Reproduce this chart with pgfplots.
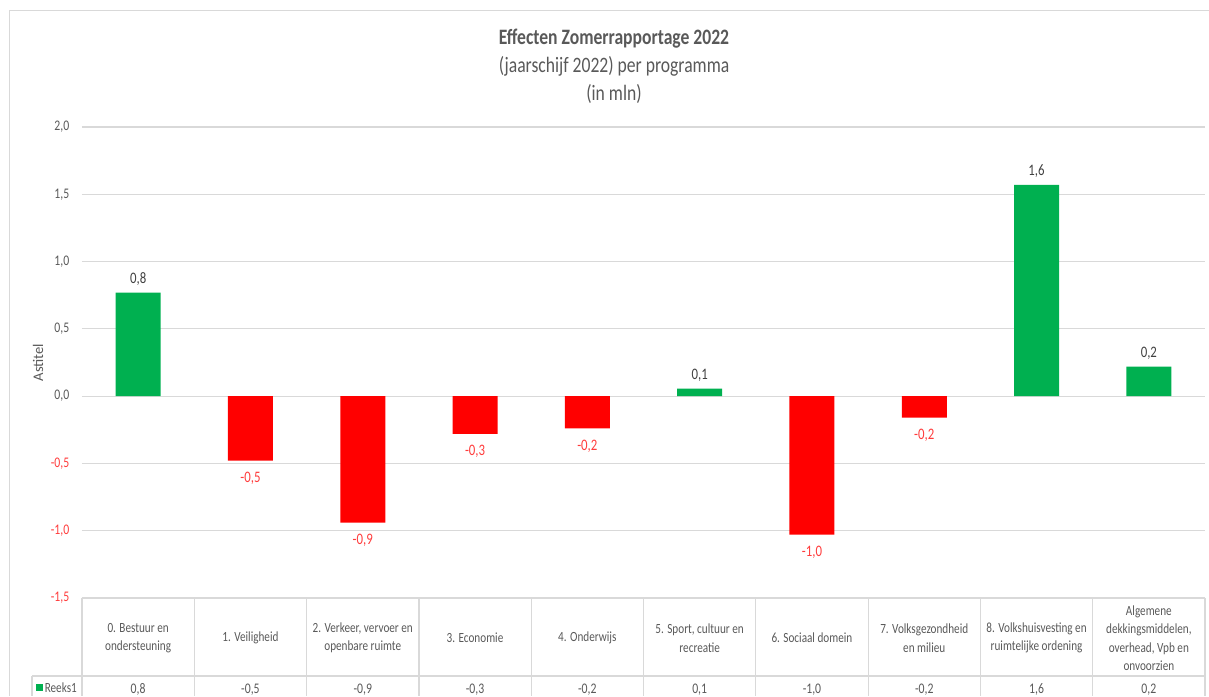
\documentclass[border=0pt]{standalone}
\usepackage{fontspec}
\setmainfont{Carlito}[FakeStretch=0.8]
\newfontfamily\plainfont{Carlito}
\usepackage{pgfplots}
\usepackage{pgfplotstable}
\pgfplotsset{compat=1.18}
\definecolor{xlgreen}{HTML}{00B050}
\definecolor{xlred}{HTML}{FF0000}
\definecolor{txtgray}{HTML}{595959}
\definecolor{lblgray}{HTML}{404040}
\definecolor{gridgray}{HTML}{D9D9D9}
\definecolor{negred}{HTML}{FF3B3B}

\pgfplotstableread{
x v
0 0.77
1 -0.48
2 -0.94
3 -0.28
4 -0.24
5 0.055
6 -1.03
7 -0.16
8 1.57
9 0.22
}\data

\begin{document}
\begin{tikzpicture}[x=0.75pt,y=0.75pt]
% pixel coordinates: x = px, y = 696 - py
\useasboundingbox (0,0) rectangle (1209,696);
% chart frame
\draw[gridgray, line width=0.9pt] (9.5,0) -- (9.5,685.5) -- (1209,685.5);
% title
\node[align=center, text=txtgray, font={\fontsize{16.5}{21}\selectfont}] at (614,630)
  {\textbf{Effecten Zomerrapportage 2022}\\(jaarschijf 2022) per programma\\(in mln)};
\begin{axis}[
  at={(61.5pt,426.75pt)}, anchor=north west,
  width=842.25pt, height=353.25pt, scale only axis,
  xmin=-0.5, xmax=9.5, ymin=-1.5, ymax=2,
  clip=false,
  axis line style={draw=none},
  major tick length=0pt,
  ytick={-1.5,-1,-0.5,0,0.5,1,1.5,2},
  yticklabels={{\textcolor{negred}{-1,5}},{\textcolor{negred}{-1,0}},{\textcolor{negred}{-0,5}},{0,0},{0,5},{1,0},{1,5},{2,0}},
  yticklabel style={font={\fontsize{11}{13}\selectfont}, text=txtgray, xshift=-6pt},
  ymajorgrids, grid style={draw=gridgray, line width=0.9pt},
  xtick={0,...,9},
  xticklabels={
    {0. Bestuur en\\ondersteuning},
    {1. Veiligheid},
    {2. Verkeer, vervoer en\\openbare ruimte},
    {3. Economie},
    {4. Onderwijs},
    {5. Sport, cultuur en\\recreatie},
    {6. Sociaal domein},
    {7. Volksgezondheid\\en milieu},
    {8. Volkshuisvesting en\\ruimtelijke ordening},
    {Algemene\\dekkingsmiddelen,\\overhead, Vpb en\\onvoorzien}},
  xticklabel style={align=center, anchor=center, yshift=-30pt, text=txtgray,
    font={\fontsize{10.5}{13.9}\selectfont}},
  ylabel={Astitel},
  every axis y label/.style={at={(axis description cs:-0.0392,0.5)}, rotate=90, anchor=center,
    font={\plainfont\fontsize{11}{13}\selectfont}, text=txtgray},
  /pgf/number format/.cd, fixed, fixed zerofill, precision=1, use comma, assume math mode=true,
]
\addplot[ybar, bar width=33.75pt, bar shift=0pt, fill=xlgreen, draw=none,
  restrict y to domain=0:10,
  nodes near coords,
  nodes near coords style={text=lblgray, font={\fontsize{12}{14}\selectfont}, inner sep=5pt}]
  table[x=x, y=v] {\data};
\addplot[ybar, bar width=33.75pt, bar shift=0pt, fill=xlred, draw=none,
  restrict y to domain=-10:0,
  nodes near coords,
  nodes near coords style={text=negred, font={\fontsize{12}{14}\selectfont}, inner sep=8.5pt}]
  table[x=x, y=v] {\data};
% value row of the data table
\addplot[only marks, mark=none, point meta=explicit,
  nodes near coords,
  nodes near coords style={anchor=center, text=txtgray, font={\fontsize{11}{13}\selectfont}}]
  table[x=x, y expr=-2.18, meta=v] {\data};
\end{axis}
% data table lines
\foreach \k in {0,...,10} {
  \draw[gridgray, line width=0.9pt] ({82+112.3*\k},98) -- ({82+112.3*\k},0);
}
\draw[gridgray, line width=0.9pt] (32,20) -- (1205,20);
\draw[gridgray, line width=0.9pt] (32,20) -- (32,0);
\fill[xlgreen] (36,5) rectangle (43,12);
\node[anchor=west, inner sep=0pt, text=txtgray, font={\fontsize{10.5}{13}\selectfont}] at (44.5,8) {Reeks1};
\end{tikzpicture}
\end{document}
